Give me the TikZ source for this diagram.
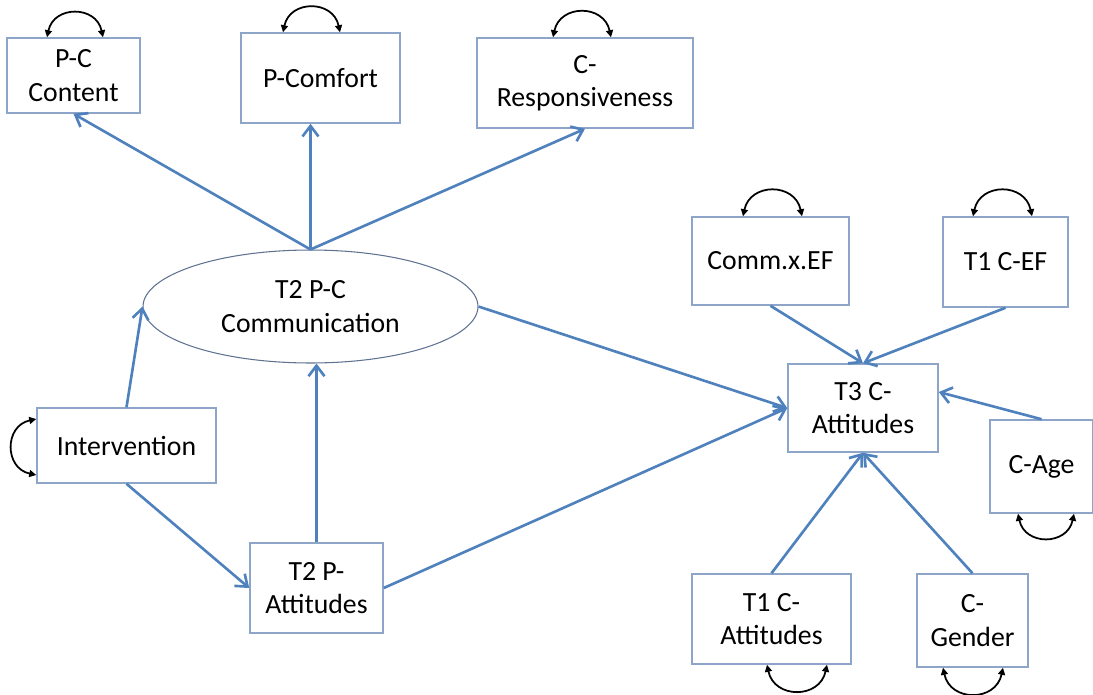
\documentclass[tikz,border=0pt]{standalone}
\usepackage{fontspec}
\setmainfont{Carlito}
\usetikzlibrary{arrows.meta,shapes.geometric}
\definecolor{pathblue}{RGB}{79,129,189}
\definecolor{boxline}{RGB}{140,165,200}
\definecolor{ovalline}{RGB}{95,115,145}

\begin{document}
\begin{tikzpicture}[
  x=0.02cm, y=-0.02cm,
  var/.style={draw=boxline, line width=0.9pt, fill=white, align=center, inner sep=2pt, font=\fontsize{15.8}{19}\selectfont},
  latent/.style={var, ellipse, draw=ovalline, line width=0.6pt},
  arr/.style={-{Straight Barb[length=2.1mm,width=3.2mm]}, draw=pathblue, line width=1.5pt},
  selfvar/.style={{Triangle[length=1.4mm,width=1.4mm]}-{Triangle[length=1.4mm,width=1.4mm]}, line width=1pt, looseness=1.5}
]
\useasboundingbox (0,0) rectangle (1093,694);

\node[var, minimum width=2.66cm, minimum height=1.5cm] (pccont) at (73.5,75.5) {P-C\\Content};
\node[var, minimum width=3.18cm, minimum height=1.8cm] (pcomf) at (320.5,78) {P-Comfort};
\node[var, minimum width=4.32cm, minimum height=1.8cm] (cresp) at (585,83) {C-\\Responsiveness};
\node[latent, minimum width=6.7cm, minimum height=2.26cm] (comm) at (310.5,306.5) {T2 P-C\\Communication};
\node[var, minimum width=3.58cm, minimum height=1.5cm] (intv) at (126.5,445.5) {Intervention};
\node[var, minimum width=2.66cm, minimum height=1.8cm] (patt) at (316.5,588) {T2 P-\\Attitudes};
\node[var, minimum width=3.14cm, minimum height=1.76cm] (cxef) at (770.5,261) {Comm.x.EF};
\node[var, minimum width=2.5cm, minimum height=1.8cm] (cef) at (1005.5,262) {T1 C-EF};
\node[var, minimum width=3.0cm, minimum height=1.76cm] (catt) at (863,408) {T3 C-\\Attitudes};
\node[var, minimum width=2.06cm, minimum height=1.86cm] (cage) at (1041.5,466.5) {C-Age};
\node[var, minimum width=3.18cm, minimum height=1.8cm] (catta) at (771.5,619) {T1 C-\\Attitudes};
\node[var, minimum width=2.22cm, minimum height=1.86cm] (cgen) at (972.5,620.5) {C-\\Gender};

\draw[arr] (comm.north) -- (pccont.south);
\draw[arr] (comm.north) -- (comm.north |- pcomf.south);
\draw[arr] (comm.north) -- (cresp.south);
\draw[arr] (intv.north) -- (comm.west);
\draw[arr] (intv.south) -- (patt.west);
\draw[arr] (patt.north) -- (patt.north |- comm.south);
\draw[arr] (comm.east) -- (catt.west);
\draw[arr] (patt.east) -- (catt.west);
\draw[arr] (cxef.south) -- (catt.north);
\draw[arr] (cef.south) -- (catt.north);
\draw[arr] (cage.north) -- ([yshift=0.32cm]catt.east);
\draw[arr] (catta.north) -- (catt.south);
\draw[arr] (cgen.north) -- (catt.south);

\draw[selfvar] ([xshift=-0.53cm]pccont.north) to[out=78,in=102] ([xshift=0.59cm]pccont.north);
\draw[selfvar] ([xshift=-0.75cm]pcomf.north) to[out=78,in=102] ([xshift=0.39cm]pcomf.north);
\draw[selfvar] ([xshift=-0.64cm]cresp.north) to[out=78,in=102] ([xshift=0.52cm]cresp.north);
\draw[selfvar] ([xshift=-0.55cm]cxef.north) to[out=78,in=102] ([xshift=0.63cm]cxef.north);
\draw[selfvar] ([xshift=-0.65cm]cef.north) to[out=78,in=102] ([xshift=0.53cm]cef.north);
\draw[selfvar] ([yshift=0.53cm]intv.west) to[out=192,in=168] ([yshift=-0.59cm]intv.west);
\draw[selfvar] ([xshift=-0.47cm]cage.south) to[out=-78,in=-102] ([xshift=0.65cm]cage.south);
\draw[selfvar] ([xshift=-0.09cm]catta.south) to[out=-78,in=-102] ([xshift=1.11cm]catta.south);
\draw[selfvar] ([xshift=-0.59cm]cgen.south) to[out=-78,in=-102] ([xshift=0.61cm]cgen.south);

\end{tikzpicture}
\end{document}
